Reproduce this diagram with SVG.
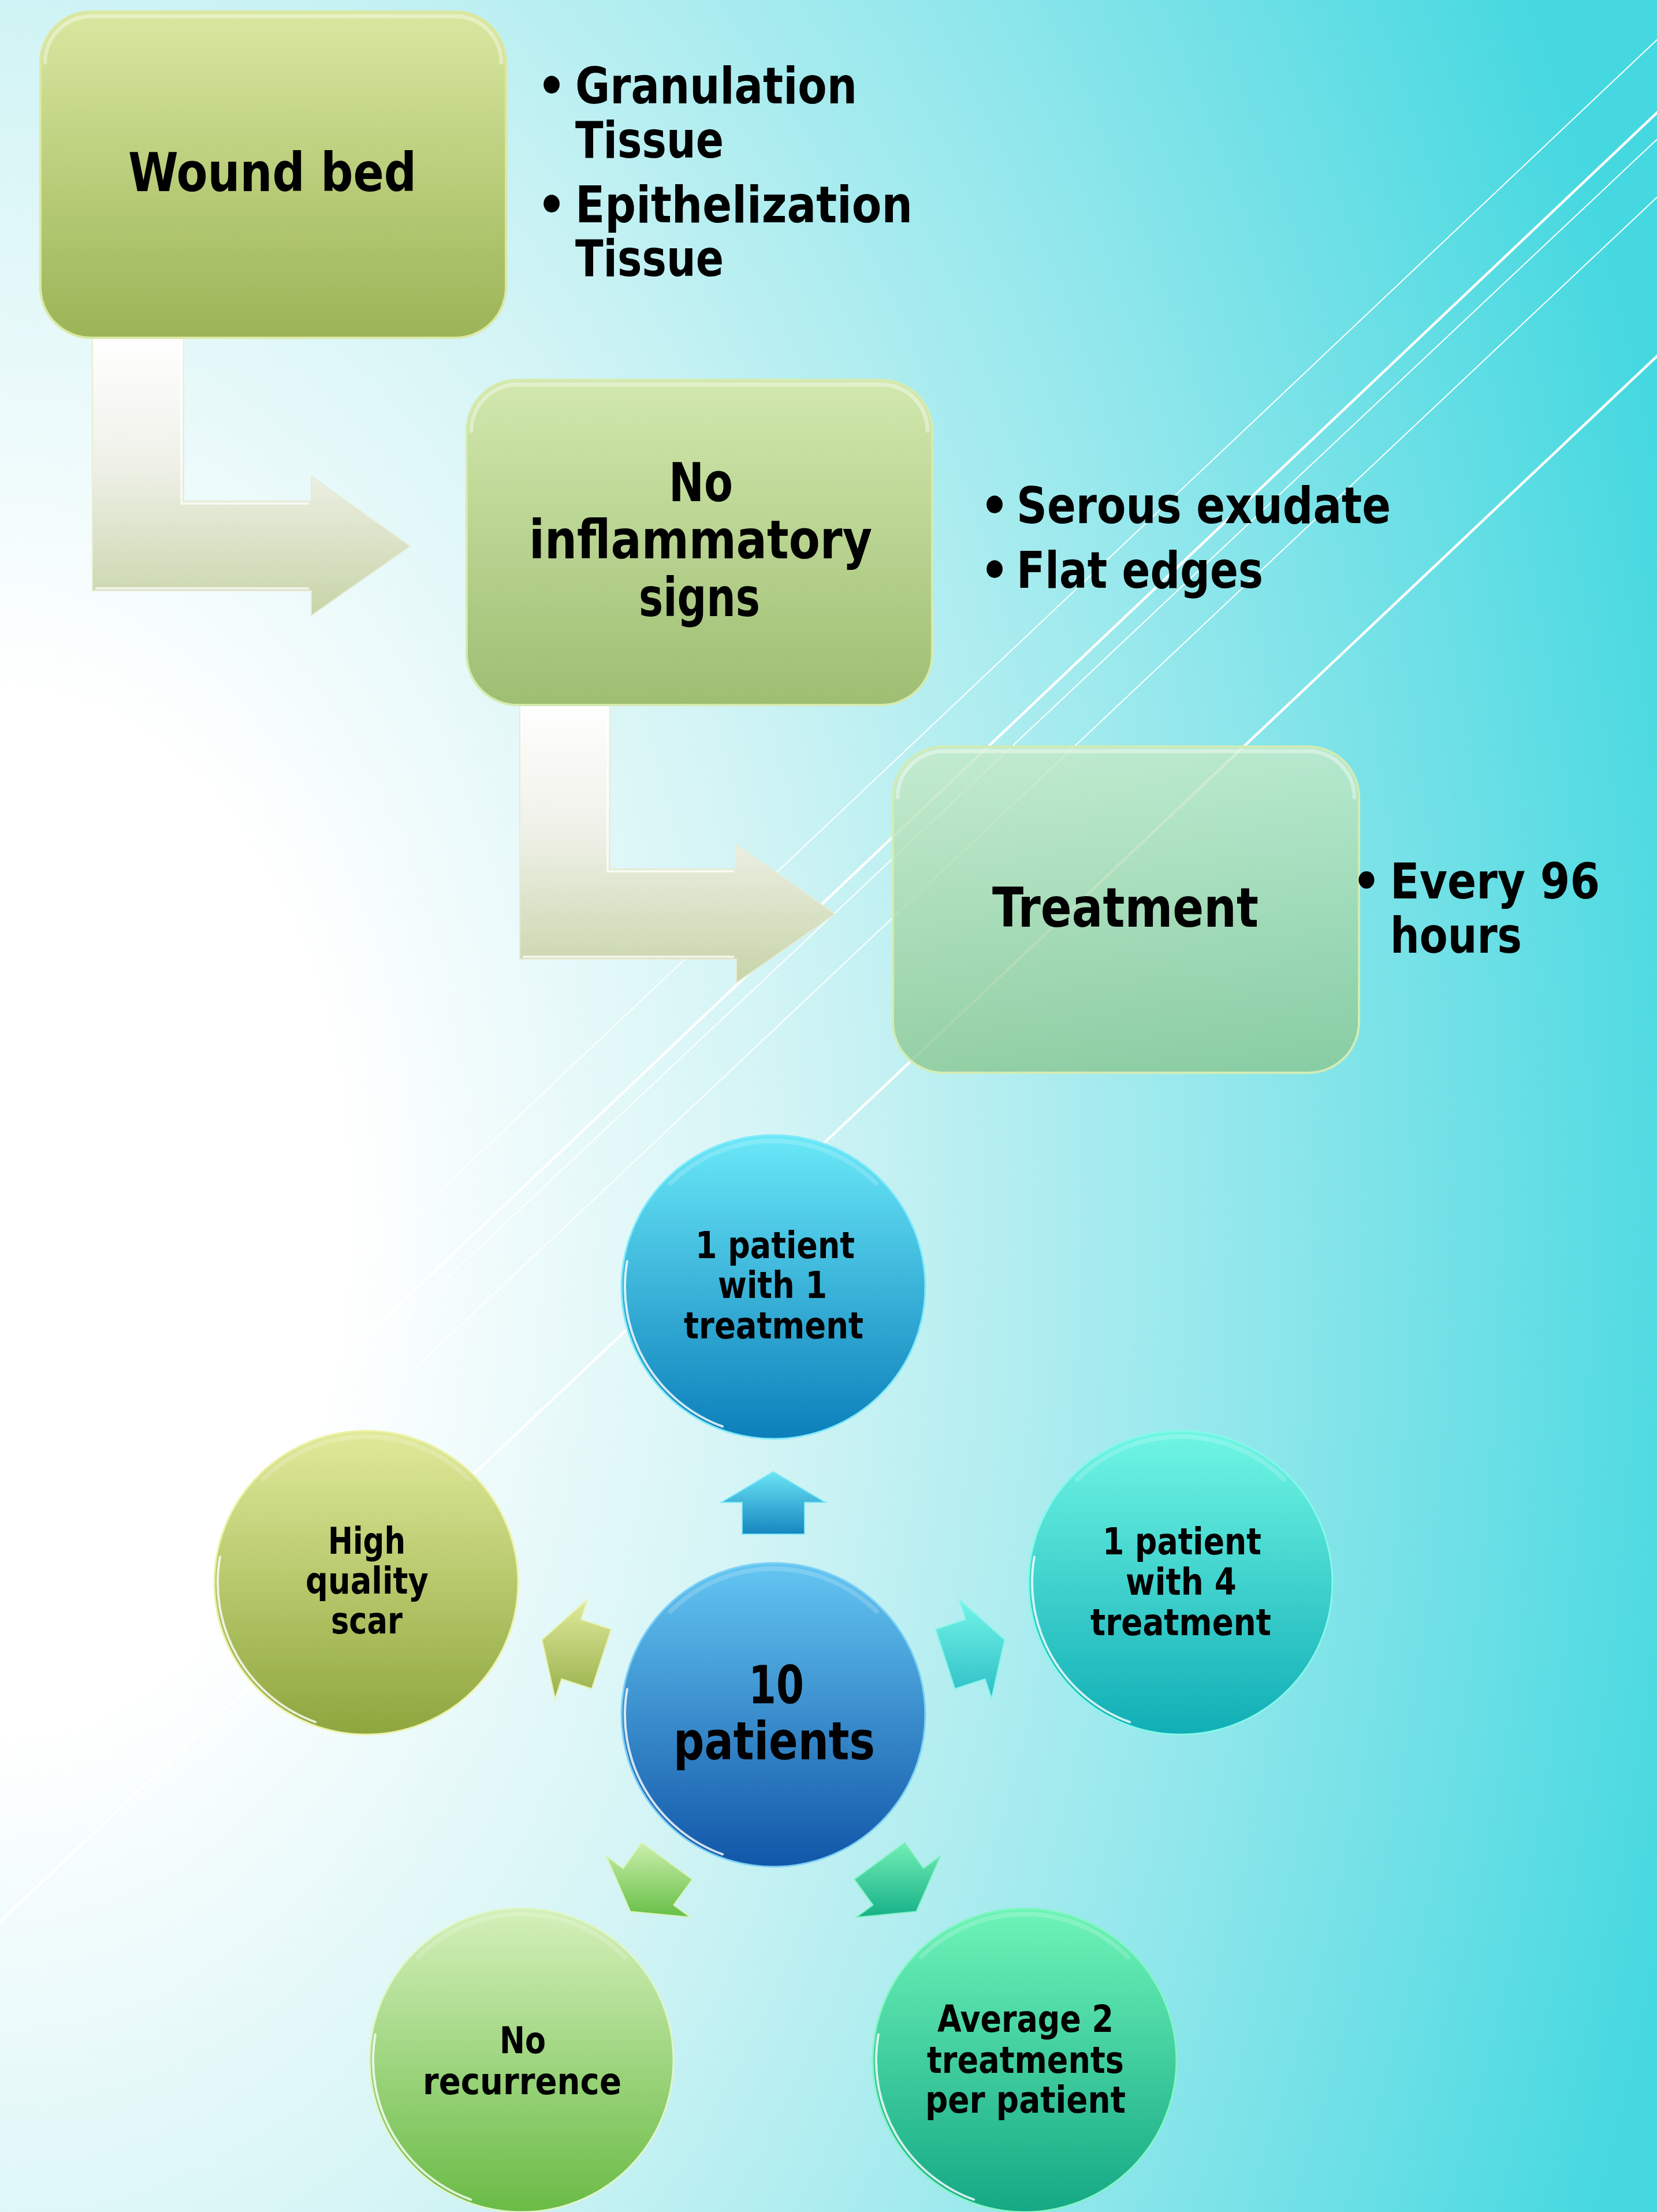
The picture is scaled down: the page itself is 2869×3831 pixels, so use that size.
<svg xmlns="http://www.w3.org/2000/svg" width="2869" height="3831" viewBox="0 0 2869 3831">
<defs>
  <radialGradient id="bg" gradientUnits="userSpaceOnUse" cx="0" cy="0" r="3000" gradientTransform="translate(0 2100) scale(1 1.5)">
    <stop offset="0" stop-color="#ffffff"/>
    <stop offset="0.2" stop-color="#ffffff"/>
    <stop offset="0.45" stop-color="#d3f4f5"/>
    <stop offset="0.7" stop-color="#96e8ec"/>
    <stop offset="1" stop-color="#46d8e0"/>
  </radialGradient>
  <linearGradient id="gBox1" x1="0" y1="0" x2="0" y2="1">
    <stop offset="0" stop-color="#d9e7a0"/>
    <stop offset="1" stop-color="#9bb456"/>
  </linearGradient>
  <linearGradient id="gBox2" x1="0" y1="0" x2="0" y2="1">
    <stop offset="0" stop-color="#d2e8ae"/>
    <stop offset="1" stop-color="#9ebe72"/>
  </linearGradient>
  <linearGradient id="gBox3" x1="0" y1="0" x2="0" y2="1">
    <stop offset="0" stop-color="#c6eac6"/>
    <stop offset="1" stop-color="#88c690"/>
  </linearGradient>
  <linearGradient id="gBent" x1="0" y1="0" x2="0" y2="1">
    <stop offset="0" stop-color="#ffffff"/>
    <stop offset="0.45" stop-color="#eff1e8"/>
    <stop offset="1" stop-color="#c7d4a8"/>
  </linearGradient>
  <linearGradient id="cTop" x1="0" y1="0" x2="0" y2="1">
    <stop offset="0" stop-color="#6ae8f8"/>
    <stop offset="1" stop-color="#0c7fbb"/>
  </linearGradient>
  <linearGradient id="cCenter" x1="0" y1="0" x2="0" y2="1">
    <stop offset="0" stop-color="#64c6f2"/>
    <stop offset="1" stop-color="#1156a8"/>
  </linearGradient>
  <linearGradient id="cRight" x1="0" y1="0" x2="0" y2="1">
    <stop offset="0" stop-color="#70f6e4"/>
    <stop offset="1" stop-color="#10aeb6"/>
  </linearGradient>
  <linearGradient id="cBR" x1="0" y1="0" x2="0" y2="1">
    <stop offset="0" stop-color="#6ef4b8"/>
    <stop offset="1" stop-color="#14a884"/>
  </linearGradient>
  <linearGradient id="cBL" x1="0" y1="0" x2="0" y2="1">
    <stop offset="0" stop-color="#d4f0ba"/>
    <stop offset="1" stop-color="#6abb46"/>
  </linearGradient>
  <linearGradient id="cLeft" x1="0" y1="0" x2="0" y2="1">
    <stop offset="0" stop-color="#e0ea9a"/>
    <stop offset="1" stop-color="#8ea63e"/>
  </linearGradient>
  <linearGradient id="aUp" x1="0" y1="0" x2="0" y2="1">
    <stop offset="0" stop-color="#6ae4f4"/>
    <stop offset="1" stop-color="#1686c0"/>
  </linearGradient>
  <linearGradient id="aRight" x1="0" y1="0" x2="0" y2="1">
    <stop offset="0" stop-color="#74f4e8"/>
    <stop offset="1" stop-color="#2cbec6"/>
  </linearGradient>
  <linearGradient id="aBR" x1="0" y1="0" x2="0" y2="1">
    <stop offset="0" stop-color="#72eeb4"/>
    <stop offset="1" stop-color="#16b088"/>
  </linearGradient>
  <linearGradient id="aBL" x1="0" y1="0" x2="0" y2="1">
    <stop offset="0" stop-color="#cbeeac"/>
    <stop offset="1" stop-color="#66bf46"/>
  </linearGradient>
  <linearGradient id="aLeft" x1="0" y1="0" x2="0" y2="1">
    <stop offset="0" stop-color="#dfea9c"/>
    <stop offset="1" stop-color="#98b04a"/>
  </linearGradient>
</defs>
<style>
  .t { font-family: "DejaVu Sans Condensed", "DejaVu Sans", "Liberation Sans", sans-serif; font-weight: bold; fill: #000; }
  .big { font-size: 93px; }
  .bul { font-size: 88px; }
  .ct { font-size: 64px; }
  .dot { text-anchor: middle; }
  .deco { stroke: #ffffff; fill: none; }
  .thin { stroke-width: 2; }
  .thick { stroke-width: 4.5; }
  .boxtop { fill: none; stroke: #ffffff; stroke-width: 7; stroke-linecap: round; opacity: 0.4; }
  .rim { fill: none; stroke: #ffffff; stroke-width: 4; stroke-linecap: round; opacity: 0.8; }
  .toprim { fill: none; stroke: #ffffff; stroke-width: 8; stroke-linecap: round; opacity: 0.18; }
  .bevel { fill: none; stroke: #ffffff; stroke-width: 4; opacity: 0.7; }
</style>

<rect x="0" y="0" width="2869" height="3831" fill="url(#bg)"/>

<g id="background-lines">
  <line class="deco thin" x1="3000" y1="-55" x2="0" y2="2783"/>
  <line class="deco thick" x1="3000" y1="71" x2="0" y2="2915"/>
  <line class="deco thin" x1="3000" y1="118" x2="0" y2="2942"/>
  <line class="deco thin" x1="3000" y1="218" x2="0" y2="3047"/>
  <line class="deco thick" x1="3000" y1="493" x2="0" y2="3328"/>
</g>

<g id="connectors">
  <g id="bent-arrow-1">
    <polygon points="160,585 318,585 318,868 539,868 539,825 710,946 539,1066 539,1023 160,1023" fill="url(#gBent)" stroke="#e6ecd6" stroke-width="2"/>
    <polyline class="bevel" points="314,590 314,872 535,872"/>
    <line class="bevel" x1="165" y1="1019" x2="535" y2="1019"/>
  </g>
  <g id="bent-arrow-2">
    <polygon points="900,1222 1056,1222 1056,1505 1275,1505 1275,1463 1446,1583 1275,1702 1275,1661 900,1661" fill="url(#gBent)" stroke="#e6ecd6" stroke-width="2"/>
    <polyline class="bevel" points="1052,1227 1052,1509 1271,1509"/>
    <line class="bevel" x1="905" y1="1657" x2="1271" y2="1657"/>
  </g>
  <polygon id="arrow-up" points="1339,2549 1429,2602 1393,2602 1393,2657 1285,2657 1285,2602 1249,2602" fill="url(#aUp)" stroke="#7ae8f8" stroke-width="2"/>
  <polygon id="arrow-right" points="1739.4,2839.9 1716.8,2941.9 1705.7,2907.7 1653.4,2924.7 1620.0,2821.9 1672.3,2804.9 1661.2,2770.7" fill="url(#aRight)" stroke="#80f6ec" stroke-width="2"/>
  <polygon id="arrow-bottom-right" points="1586.5,3310.6 1482.5,3320.6 1511.6,3299.4 1479.3,3254.9 1566.7,3191.5 1599.0,3236.0 1628.1,3214.8" fill="url(#aBR)" stroke="#80f2c0" stroke-width="2"/>
  <polygon id="arrow-bottom-left" points="1091.5,3310.6 1049.9,3214.8 1079.0,3236.0 1111.3,3191.5 1198.7,3254.9 1166.4,3299.4 1195.5,3320.6" fill="url(#aBL)" stroke="#d8f4b8" stroke-width="2"/>
  <polygon id="arrow-left" points="938.6,2839.9 1016.8,2770.7 1005.7,2804.9 1058.0,2821.9 1024.6,2924.7 972.3,2907.7 961.2,2941.9" fill="url(#aLeft)" stroke="#eaf0a8" stroke-width="2"/>
</g>

<g id="node-wound-bed">
  <rect x="70" y="20" width="806" height="565" rx="88" ry="88" fill="url(#gBox1)" stroke="#dbe8a4" stroke-width="4"/>
  <path class="boxtop" d="M78,108 A80,80 0 0 1 158,28 L788,28 A80,80 0 0 1 868,108"/>
  <text class="t big" x="222" y="331" textLength="499" lengthAdjust="spacingAndGlyphs">Wound bed</text>
</g>

<g id="bullets-wound-bed">
  <text class="t bul dot" x="955" y="179">•</text>
  <text class="t bul" x="996" y="179" textLength="488" lengthAdjust="spacingAndGlyphs">Granulation</text>
  <text class="t bul" x="996" y="273" textLength="257" lengthAdjust="spacingAndGlyphs">Tissue</text>
  <text class="t bul dot" x="955" y="385">•</text>
  <text class="t bul" x="996" y="385" textLength="584" lengthAdjust="spacingAndGlyphs">Epithelization</text>
  <text class="t bul" x="996" y="478" textLength="257" lengthAdjust="spacingAndGlyphs">Tissue</text>
</g>

<g id="node-no-inflammatory-signs">
  <rect x="808" y="658" width="806" height="563" rx="88" ry="88" fill="url(#gBox2)" stroke="#d6eab0" stroke-width="4"/>
  <path class="boxtop" d="M816,746 A80,80 0 0 1 896,666 L1526,666 A80,80 0 0 1 1606,746"/>
  <text class="t big" x="1158" y="868" textLength="111" lengthAdjust="spacingAndGlyphs">No</text>
  <text class="t big" x="916" y="967" textLength="594" lengthAdjust="spacingAndGlyphs">inflammatory</text>
  <text class="t big" x="1106" y="1067" textLength="210" lengthAdjust="spacingAndGlyphs">signs</text>
</g>

<g id="bullets-no-inflammatory">
  <text class="t bul dot" x="1722" y="906">•</text>
  <text class="t bul" x="1760" y="906" textLength="648" lengthAdjust="spacingAndGlyphs">Serous exudate</text>
  <text class="t bul dot" x="1722" y="1018">•</text>
  <text class="t bul" x="1760" y="1018" textLength="427" lengthAdjust="spacingAndGlyphs">Flat edges</text>
</g>

<g id="node-treatment">
  <rect x="1546" y="1293" width="807" height="565" rx="88" ry="88" fill="url(#gBox3)" fill-opacity="0.78" stroke="#d2ecb4" stroke-width="4"/>
  <path class="boxtop" d="M1554,1381 A80,80 0 0 1 1634,1301 L2265,1301 A80,80 0 0 1 2345,1381"/>
  <text class="t" font-size="95" x="1718" y="1605" textLength="461" lengthAdjust="spacingAndGlyphs">Treatment</text>
</g>

<g id="bullets-treatment">
  <text class="t dot" font-size="86" x="2366" y="1556">•</text>
  <text class="t" font-size="86" x="2407" y="1556" textLength="363" lengthAdjust="spacingAndGlyphs">Every 96</text>
  <text class="t" font-size="86" x="2407" y="1650" textLength="228" lengthAdjust="spacingAndGlyphs">hours</text>
</g>

<g id="node-1-patient-1-treatment">
  <circle cx="1339" cy="2229" r="263" fill="url(#cTop)" stroke="#7eeafa" stroke-width="3"/>
  <path class="toprim" d="M1160.1,2050.1 A253,253 0 0 1 1517.9,2050.1"/>
  <path class="rim" d="M1251.1,2470.5 A257,257 0 0 1 1085.9,2184.4"/>
  <text class="t ct" x="1204" y="2179" textLength="276" lengthAdjust="spacingAndGlyphs">1 patient</text>
  <text class="t ct" x="1243" y="2248" textLength="189" lengthAdjust="spacingAndGlyphs">with 1</text>
  <text class="t ct" x="1184" y="2318" textLength="311" lengthAdjust="spacingAndGlyphs">treatment</text>
</g>

<g id="node-10-patients">
  <circle cx="1339" cy="2970" r="263" fill="url(#cCenter)" stroke="#7cd0f6" stroke-width="3"/>
  <path class="toprim" d="M1160.1,2791.1 A253,253 0 0 1 1517.9,2791.1"/>
  <path class="rim" d="M1251.1,3211.5 A257,257 0 0 1 1085.9,2925.4"/>
  <text class="t" font-size="91" x="1296" y="2950" textLength="96" lengthAdjust="spacingAndGlyphs">10</text>
  <text class="t" font-size="91" x="1166" y="3047" textLength="349" lengthAdjust="spacingAndGlyphs">patients</text>
</g>

<g id="node-1-patient-4-treatment">
  <circle cx="2044" cy="2741" r="263" fill="url(#cRight)" stroke="#86f8ea" stroke-width="3"/>
  <path class="toprim" d="M1865.1,2562.1 A253,253 0 0 1 2222.9,2562.1"/>
  <path class="rim" d="M1956.1,2982.5 A257,257 0 0 1 1790.9,2696.4"/>
  <text class="t ct" x="1909" y="2692" textLength="275" lengthAdjust="spacingAndGlyphs">1 patient</text>
  <text class="t ct" x="1949" y="2762" textLength="192" lengthAdjust="spacingAndGlyphs">with 4</text>
  <text class="t ct" x="1888" y="2832" textLength="313" lengthAdjust="spacingAndGlyphs">treatment</text>
</g>

<g id="node-average-2-treatments">
  <circle cx="1774" cy="3568" r="263" fill="url(#cBR)" stroke="#84f6c4" stroke-width="3"/>
  <path class="toprim" d="M1595.1,3389.1 A253,253 0 0 1 1952.9,3389.1"/>
  <path class="rim" d="M1686.1,3809.5 A257,257 0 0 1 1520.9,3523.4"/>
  <text class="t ct" x="1623" y="3519" textLength="305" lengthAdjust="spacingAndGlyphs">Average 2</text>
  <text class="t ct" x="1605" y="3590" textLength="341" lengthAdjust="spacingAndGlyphs">treatments</text>
  <text class="t ct" x="1602" y="3659" textLength="347" lengthAdjust="spacingAndGlyphs">per patient</text>
</g>

<g id="node-no-recurrence">
  <circle cx="903" cy="3568" r="263" fill="url(#cBL)" stroke="#e0f6c8" stroke-width="3"/>
  <path class="toprim" d="M724.1,3389.1 A253,253 0 0 1 1081.9,3389.1"/>
  <path class="rim" d="M815.1,3809.5 A257,257 0 0 1 649.9,3523.4"/>
  <text class="t ct" x="865" y="3556" textLength="80" lengthAdjust="spacingAndGlyphs">No</text>
  <text class="t ct" x="732" y="3627" textLength="344" lengthAdjust="spacingAndGlyphs">recurrence</text>
</g>

<g id="node-high-quality-scar">
  <circle cx="634" cy="2741" r="263" fill="url(#cLeft)" stroke="#eef2a8" stroke-width="3"/>
  <path class="toprim" d="M455.1,2562.1 A253,253 0 0 1 812.9,2562.1"/>
  <path class="rim" d="M546.1,2982.5 A257,257 0 0 1 380.9,2696.4"/>
  <text class="t ct" x="568" y="2691" textLength="134" lengthAdjust="spacingAndGlyphs">High</text>
  <text class="t ct" x="529" y="2760" textLength="213" lengthAdjust="spacingAndGlyphs">quality</text>
  <text class="t ct" x="573" y="2829" textLength="124" lengthAdjust="spacingAndGlyphs">scar</text>
</g>
</svg>
